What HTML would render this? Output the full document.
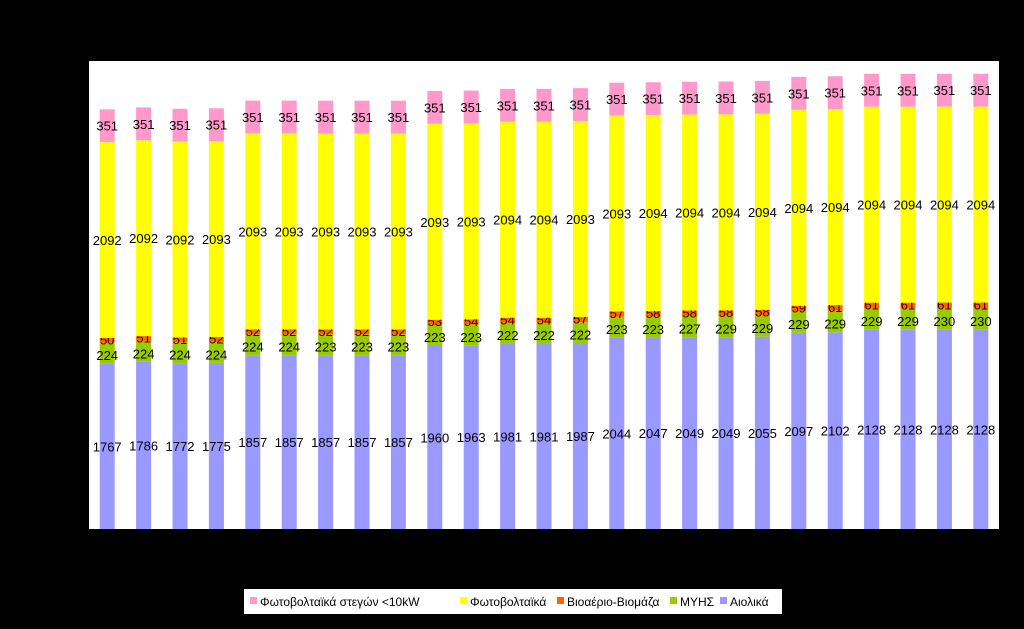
<!DOCTYPE html>
<html><head><meta charset="utf-8"><style>
body{margin:0;background:#000;}
svg text{font-family:"Liberation Sans","DejaVu Sans",sans-serif;}
</style></head><body>
<svg width="1024" height="624" xmlns="http://www.w3.org/2000/svg">
<rect x="0" y="0" width="1024" height="624" fill="#000"/>
<rect x="89" y="61" width="910" height="468" fill="#fff"/>
<g id="bars"></g>
<g>
<rect x="244" y="589" width="538" height="25" fill="#fff"/>
<g id="legend"></g>
</g>
</svg>
<script>
const categories = Array.from({length:25},(_, i)=>String(i+1));
const wind = [1767,1786,1772,1775,1857,1857,1857,1857,1857,1960,1963,1981,1981,1987,2044,2047,2049,2049,2055,2097,2102,2128,2128,2128,2128];
const hydro = [224,224,224,224,224,224,223,223,223,223,223,222,222,222,223,223,227,229,229,229,229,229,229,230,230];
const bio = [50,51,51,52,52,52,52,52,52,53,54,54,54,57,57,58,58,58,58,59,61,61,61,61,61];
const pv = [2092,2092,2092,2093,2093,2093,2093,2093,2093,2093,2093,2094,2094,2093,2093,2094,2094,2094,2094,2094,2094,2094,2094,2094,2094];
const roof = [351,351,351,351,351,351,351,351,351,351,351,351,351,351,351,351,351,351,351,351,351,351,351,351,351];
const seriesNames = ["Αιολικά","ΜΥΗΣ","Βιοαέριο-Βιομάζα","Φωτοβολταϊκά","Φωτοβολταϊκά στεγών <10kW"];
const yMax = 5000;
const NS="http://www.w3.org/2000/svg";
const plotL=89, plotW=910, plotT=61, plotB=529;
const y = v => plotB - v/yMax*(plotB-plotT);
const xc = i => plotL + plotW/categories.length*(i+0.5);
const series=[
 {d:wind,c:"#9999ff",n:"wind",lc:"#000",off:0},
 {d:hydro,c:"#99cc00",n:"hydro",lc:"#000",off:2},
 {d:bio,c:"#ff6600",n:"bio",lc:"#400",off:-1},
 {d:pv,c:"#ffff00",n:"pv",lc:"#000",off:0},
 {d:roof,c:"#ff99cc",n:"roof",lc:"#000",off:0}
];
const g=document.getElementById('bars');
categories.forEach((cat,i)=>{
  let base=0;
  series.forEach(s=>{
    const v=s.d[i];
    const r=document.createElementNS(NS,'rect');
    
    
    r.setAttribute('x',xc(i)-7.5);r.setAttribute('width',15);
    r.setAttribute('y',y(base+v));r.setAttribute('height',y(base)-y(base+v));
    r.setAttribute('fill',s.c);
    g.appendChild(r);
    const t=document.createElementNS(NS,'text');
    
    
    t.setAttribute('x',xc(i));t.setAttribute('y',(y(base)+y(base+v))/2+5+s.off);
    t.setAttribute('text-anchor','middle');t.setAttribute('font-size','13');
    t.setAttribute('fill',s.lc);
    t.textContent=v;
    g.appendChild(t);
    base+=v;
  });
});
const lg=document.getElementById('legend');
const leg=[["Φωτοβολταϊκά στεγών <10kW","#ff99cc",250],["Φωτοβολταϊκά","#ffff00",460],["Βιοαέριο-Βιομάζα","#ff6600",557],["ΜΥΗΣ","#99cc00",670],["Αιολικά","#9999ff",720]];
leg.forEach(([n,c,x])=>{
  const r=document.createElementNS(NS,'rect');
  
  
  r.setAttribute('x',x);r.setAttribute('y',597);r.setAttribute('width',7);r.setAttribute('height',7);r.setAttribute('fill',c);
  lg.appendChild(r);
  const t=document.createElementNS(NS,'text');
  
  
  t.setAttribute('x',x+10);t.setAttribute('y',606);t.setAttribute('font-size','12');t.setAttribute('fill','#000');
  t.textContent=n;
  lg.appendChild(t);
});
</script>
</body></html>
